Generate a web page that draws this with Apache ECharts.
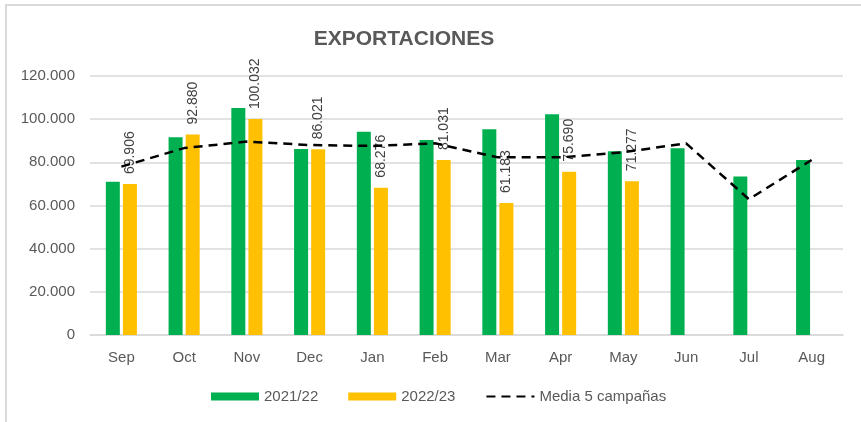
<!DOCTYPE html>
<html>
<head>
<meta charset="utf-8">
<script src="https://cdn.jsdelivr.net/npm/echarts@6/dist/echarts.min.js"></script>
<style>
  html, body { margin: 0; padding: 0; background: #fff; }
  #chart { width: 861px; height: 422px; }
</style>
</head>
<body>
<div id="chart"></div>
<script>
// meses de la campaña
var months = ["Sep", "Oct", "Nov", "Dec", "Jan", "Feb", "Mar", "Apr", "May", "Jun", "Jul", "Aug"];
// exportaciones por campaña (toneladas)
var camp2122 = [71000, 91600, 105200, 86200, 94200, 90400, 95300, 102300, 85100, 86500, 73400, 81100];
var camp2223 = [69906, 92880, 100032, 86021, 68276, 81031, 61183, 75690, 71277, null, null, null];
var media5 = [78000, 86600, 89600, 88000, 87600, 88800, 82300, 82300, 84700, 88800, 62900, 81100];

// 69906 -> "69.906"
function fmt(v) {
  return String(Math.round(v)).replace(/\B(?=(\d{3})+(?!\d))/g, ".");
}

var font = "'Liberation Sans', Arial, sans-serif";
var chart = echarts.init(document.getElementById("chart"));
chart.setOption({
  animation: false,
  title: {
    text: "EXPORTACIONES",
    left: 399,
    textAlign: "center",
    top: 24,
    textStyle: { fontFamily: font, fontSize: 21, fontWeight: "bold", color: "#595959" }
  },
  graphic: [
    {
      type: "rect",
      shape: { x: 6, y: 5, width: 900, height: 500 },
      style: { fill: "none", stroke: "#d9d9d9", lineWidth: 2 },
      silent: true
    }
  ],
  legend: {
    bottom: 13,
    left: 206,
    itemWidth: 48,
    itemHeight: 8,
    itemGap: 30,
    textStyle: { fontFamily: font, fontSize: 15, color: "#595959" },
    data: [
      { name: "2021/22", icon: "rect" },
      { name: "2022/23", icon: "rect" },
      { name: "Media 5 campañas", itemStyle: { opacity: 0 } }
    ]
  },
  grid: { left: 90, right: 18, top: 76, bottom: 87 },
  xAxis: {
    type: "category",
    data: months,
    axisTick: { show: false },
    axisLine: { lineStyle: { color: "#d9d9d9", width: 1.5 } },
    axisLabel: { fontFamily: font, fontSize: 15, color: "#595959", margin: 15 }
  },
  yAxis: {
    type: "value",
    min: 0,
    max: 120000,
    interval: 20000,
    axisLine: { show: false },
    axisTick: { show: false },
    splitLine: { lineStyle: { color: "#d9d9d9", width: 1.5 } },
    axisLabel: {
      fontFamily: font, fontSize: 15, color: "#595959", margin: 15,
      formatter: function (v) { return fmt(v); }
    }
  },
  series: [
    {
      name: "2021/22",
      type: "bar",
      data: camp2122,
      barWidth: 14,
      barGap: "22%",
      itemStyle: { color: "#00b050" }
    },
    {
      name: "2022/23",
      type: "bar",
      data: camp2223,
      barWidth: 14,
      itemStyle: { color: "#ffc000" },
      label: {
        show: true,
        position: "top",
        rotate: 90,
        align: "left",
        verticalAlign: "middle",
        distance: 10,
        fontFamily: font,
        fontSize: 14,
        color: "#404040",
        formatter: function (p) { return fmt(p.value); }
      }
    },
    {
      name: "Media 5 campañas",
      type: "line",
      data: media5,
      symbol: "none",
      z: 5,
      lineStyle: { color: "#000", width: 2.5, type: [9, 6] },
      itemStyle: { color: "#000" }
    }
  ]
});
</script>
</body>
</html>
